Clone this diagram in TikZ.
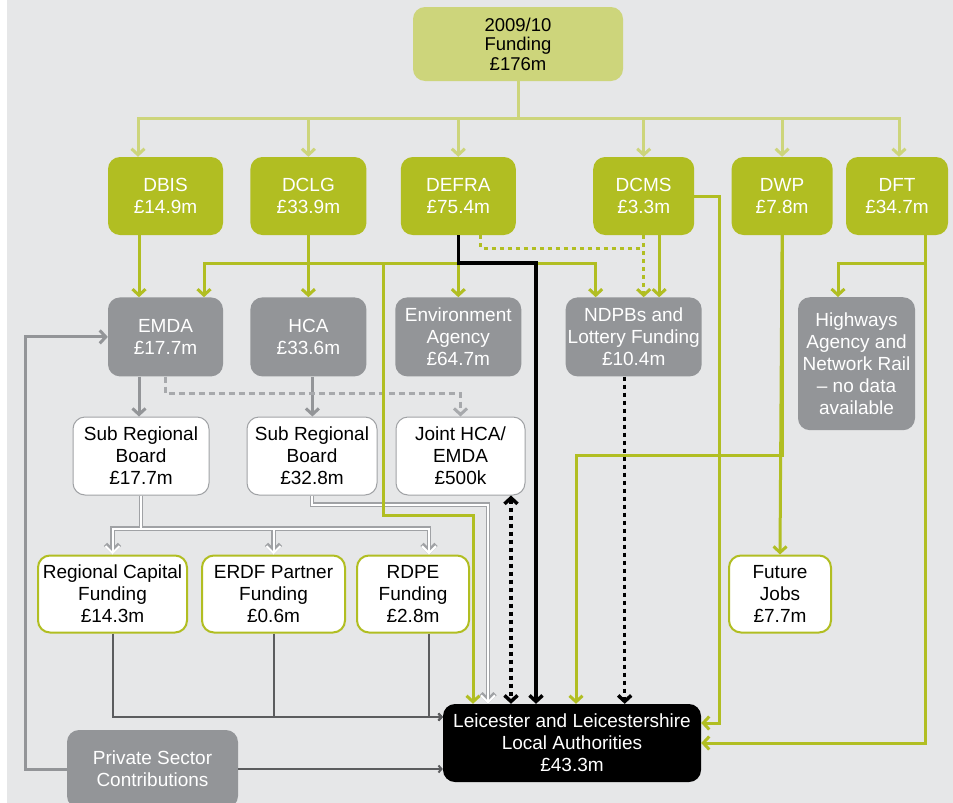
\documentclass[tikz,border=0pt]{standalone}
\usepackage{fontspec}
\setmainfont{Liberation Sans}
\usepackage{xcolor}
\usepackage{tikz}
\usetikzlibrary{positioning,arrows.meta}

\definecolor{bgc}{HTML}{E6E7E8}
\definecolor{topc}{HTML}{CDD57B}
\definecolor{grn}{HTML}{B1BE22}
\definecolor{boxgray}{HTML}{939598}
\definecolor{dashgray}{HTML}{A7A9AC}
\definecolor{edgegray}{HTML}{A0A2A5}
\definecolor{darkline}{HTML}{5B5C5E}

\begin{document}
\begin{tikzpicture}[x=1pt,y=-1pt,
    every node/.style={font=\fontsize{19}{22}\selectfont,align=center,inner sep=1.5pt},
    headed/.style={-{Straight Barb[length=6pt,width=13pt]}},
    twoheaded/.style={{Straight Barb[length=6pt,width=13pt]}-{Straight Barb[length=6pt,width=13pt]}},
    fundbox/.style={fill=topc,rounded corners=12pt,minimum width=210pt,minimum height=74pt,
        font=\fontsize{18.5}{19.5}\selectfont},
    deptbox/.style={fill=grn,text=white,rounded corners=12pt,minimum height=78pt},
    bodybox/.style={fill=boxgray,text=white,rounded corners=12pt,minimum height=79pt},
    boardbox/.style={fill=white,draw=edgegray,line width=1pt,rounded corners=12pt,minimum height=78pt},
    schemebox/.style={fill=white,draw=grn,line width=2pt,rounded corners=12pt,minimum height=77pt},
    lasbox/.style={fill=black,text=white,rounded corners=12pt,minimum height=78pt},
    busline/.style={draw=topc,line width=3pt,headed},
    gline/.style={draw=grn,line width=3pt,headed},
    gdots/.style={draw=grn,line width=3pt,dash pattern=on 4pt off 4pt},
    kline/.style={draw=black,line width=3.5pt,headed},
    kdots/.style={draw=black,line width=3.5pt,dash pattern=on 4pt off 4pt},
    gyline/.style={draw=boxgray,line width=3pt,headed},
    gydash/.style={draw=dashgray,line width=3pt,dash pattern=on 6pt off 4pt,headed},
    feedline/.style={draw=darkline,line width=2pt,-{Straight Barb[length=3pt,width=7pt]}},
    hollowout/.style={draw=edgegray,line width=4.5pt,-{Straight Barb[length=7pt,width=14pt]}},
    hollowin/.style={draw=white,line width=2pt,-{Straight Barb[length=7pt,width=14pt]}}]

    \useasboundingbox (0,0) rectangle (953,803);
    \fill[bgc] (7,0) rectangle (953,803);

    \node[fundbox] (funding) at (518,44) {2009/10\\Funding\\£176m};

    % departments
    \node[deptbox,minimum width=115pt] (dbis) at (165.5,196) {DBIS\\£14.9m};
    \node[deptbox,minimum width=116pt,right=27pt of dbis] (dclg) {DCLG\\£33.9m};
    \node[deptbox,minimum width=115pt,right=34pt of dclg] (defra) {DEFRA\\£75.4m};
    \node[deptbox,minimum width=101pt,right=77pt of defra] (dcms) {DCMS\\£3.3m};
    \node[deptbox,minimum width=101pt,right=37pt of dcms] (dwp) {DWP\\£7.8m};
    \node[deptbox,minimum width=102pt,right=13pt of dwp] (dft) {DFT\\£34.7m};

    % agencies
    \node[bodybox,minimum width=115pt,below=62pt of dbis] (emda) {EMDA\\£17.7m};
    \node[bodybox,minimum width=116pt,below=62pt of dclg] (hca) {HCA\\£33.6m};
    \node[bodybox,minimum width=126pt,below=62pt of defra] (envagency) {Environment\\Agency\\£64.7m};
    \node[bodybox,minimum width=136pt,right=44pt of envagency] (ndpbs) {NDPBs and\\Lottery Funding\\£10.4m};
    \node[bodybox,minimum width=117pt,minimum height=133pt,anchor=north] (highways) at (856.5,297)
        {Highways\\Agency and\\Network Rail\\– no data\\available};

    % boards
    \node[boardbox,minimum width=136pt] (srb1) at (141,456) {Sub Regional\\Board\\£17.7m};
    \node[boardbox,minimum width=130pt,right=37pt of srb1] (srb2) {Sub Regional\\Board\\£32.8m};
    \node[boardbox,minimum width=129pt,right=18pt of srb2] (jointhca) {Joint HCA/\\EMDA\\£500k};

    % schemes
    \node[schemebox,minimum width=149pt] (regcap) at (112.5,594) {Regional Capital\\Funding\\£14.3m};
    \node[schemebox,minimum width=143pt,right=13pt of regcap] (erdf) {ERDF Partner\\Funding\\£0.6m};
    \node[schemebox,minimum width=112pt,right=10pt of erdf] (rdpe) {RDPE\\Funding\\£2.8m};
    \node[schemebox,minimum width=102pt] (futurejobs) at (780,594) {Future\\Jobs\\£7.7m};

    \node[lasbox,minimum width=258pt] (las) at (572,743)
        {Leicester and Leicestershire\\Local Authorities\\£43.3m};
    \node[bodybox,minimum width=171pt,minimum height=78pt] (private) at (152.5,769)
        {Private Sector\\Contributions};

    % funding to departments
    \draw[busline] (funding.south) -- ++(0,37) -| ([xshift=-27.5pt]dbis.north);
    \draw[busline] (funding.south) -- ++(0,37) -| (dclg.north);
    \draw[busline] (funding.south) -- ++(0,37) -| (defra.north);
    \draw[busline] (funding.south) -- ++(0,37) -| (dcms.north);
    \draw[busline] (funding.south) -- ++(0,37) -| (dwp.north);
    \draw[busline] (funding.south) -- ++(0,37) -| ([xshift=2pt]dft.north);

    % grey links
    \draw[gyline] ([xshift=-26.5pt]emda.south) -- ([xshift=-26.5pt]emda.south |- srb1.north);
    \draw[gyline] ([xshift=4pt]hca.south) -- ([xshift=4pt]hca.south |- srb2.north);
    \draw[gydash] (emda.south) -- ++(0,17) -| (jointhca.north);
    \draw[gyline] (private.west) -- ++(-41,0) |- (emda.west);

    % hollow arrows, outline first and then the white core
    \foreach \layer in {hollowout,hollowin}{
        \draw[\layer] (srb1.south) -- ++(0,33) -| (regcap.north);
        \draw[\layer] (srb1.south) -- ++(0,33) -| (erdf.north);
        \draw[\layer] (srb1.south) -- ++(0,33) -| ([xshift=16pt]rdpe.north);
        \draw[\layer] (srb2.south) -- ++(0,9) -| ([xshift=-84pt]las.north);
    }

    \draw[feedline] (regcap.south) |- ([yshift=26pt]las.west);
    \draw[feedline] (erdf.south) |- ([yshift=26pt]las.west);
    \draw[feedline] ([xshift=16pt]rdpe.south) |- ([yshift=26pt]las.west);
    \draw[feedline] (private.east) -- (private.east -| las.west);

    % green links
    \draw[gline] ([xshift=-26.5pt]dbis.south) -- ([xshift=-26.5pt]emda.north);
    \draw[gline] (dclg.south) -- (hca.north);
    \draw[gline] (defra.south) -- ++(0,28) -| ([xshift=38.5pt]emda.north);
    \draw[gline] (defra.south) -- (envagency.north);
    \draw[gline] (defra.south) -- ++(0,28) -| ([xshift=-38pt]ndpbs.north);
    \draw[gline] (defra.south) -- ++(0,28) -| ++(-74.5,252) -| ([xshift=-99pt]las.north);
    \draw[gdots] ([xshift=22.5pt]defra.south) |- ([yshift=-13pt]dcms.south);
    \draw[gdots,headed] (dcms.south) -- (dcms.south |- ndpbs.north);
    \draw[gline] ([xshift=15.5pt]dcms.south) -- ([xshift=15.5pt]dcms.south |- ndpbs.north);
    \draw[gline] (dcms.east) -| ([xshift=18pt,yshift=20pt]las.east) -- ([yshift=20pt]las.east);
    \draw[gline] (dwp.south) -- (futurejobs.north);
    \draw[gline] (dwp.south) -- ++(0,220) -| ([xshift=4pt]las.north);
    \draw[gline] ([xshift=28pt]dft.south) -- ++(0,28) -| ([xshift=-18.5pt]highways.north);
    \draw[gline] ([xshift=28pt]dft.south) |- (las.east);

    % black links
    \draw[kline] (defra.south) -- ++(0,28) -| ([xshift=-36pt]las.north);
    \draw[kdots,headed] ([xshift=-9pt]ndpbs.south) -- ([xshift=-9pt]ndpbs.south |- las.north);
    \draw[kdots,twoheaded] ([xshift=50.5pt]jointhca.south) -- ([xshift=50.5pt]jointhca.south |- las.north);

\end{tikzpicture}
\end{document}
